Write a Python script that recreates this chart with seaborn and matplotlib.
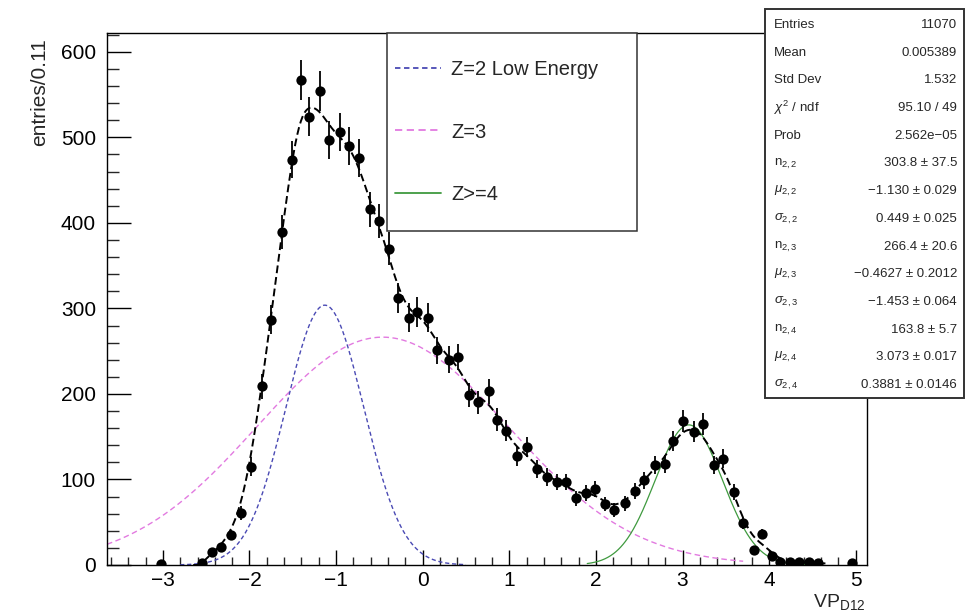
import numpy as np
import pandas as pd
import matplotlib
matplotlib.use("Agg")
import matplotlib.pyplot as plt
import seaborn as sns
from matplotlib.lines import Line2D
from matplotlib.patches import Rectangle
from matplotlib.ticker import MultipleLocator

# ---------------- data ----------------
vp_d12 = [-3.02, -2.55, -2.43, -2.33, -2.21, -2.10, -1.98, -1.86, -1.75, -1.63,
          -1.51, -1.41, -1.31, -1.19, -1.08, -0.96, -0.85, -0.73, -0.61, -0.51,
          -0.39, -0.29, -0.16, -0.06, 0.06, 0.17, 0.30, 0.41, 0.53, 0.64,
          0.76, 0.86, 0.96, 1.09, 1.20, 1.32, 1.43, 1.55, 1.66, 1.77,
          1.88, 1.99, 2.10, 2.21, 2.34, 2.45, 2.56, 2.68, 2.80, 2.89,
          3.01, 3.13, 3.24, 3.36, 3.47, 3.59, 3.70, 3.82, 3.92, 4.03,
          4.13, 4.24, 4.35, 4.46, 4.57, 4.96]
entries = [1, 2, 15, 21, 35, 61, 115, 209, 287, 389,
           474, 567, 524, 554, 497, 506, 490, 476, 416, 402,
           370, 312, 289, 296, 289, 251, 240, 243, 199, 190,
           203, 170, 157, 127, 138, 112, 103, 97, 97, 78,
           84, 89, 71, 64, 72, 87, 99, 117, 118, 145,
           168, 156, 165, 117, 124, 85, 49, 18, 36, 10,
           4, 3, 4, 3, 2, 2]

# fit component parameters (from the stats box)
n22, mu22, sig22 = 303.8, -1.130, 0.449
n23, mu23, sig23 = 266.4, -0.4627, -1.453
n24, mu24, sig24 = 163.8, 3.073, 0.3881

legend_labels = ["Z=2 Low Energy", "Z=3", "Z>=4"]

stat_names = ["Entries", "Mean", "Std Dev", r"$\chi^{2}$ / ndf", "Prob",
              r"n$_{2,2}$", r"$\mu_{2,2}$", r"$\sigma_{2,2}$",
              r"n$_{2,3}$", r"$\mu_{2,3}$", r"$\sigma_{2,3}$",
              r"n$_{2,4}$", r"$\mu_{2,4}$", r"$\sigma_{2,4}$"]
stat_values = ["11070", "0.005389", "1.532", "95.10 / 49", "2.562e\u221205",
               "303.8 \u00b1 37.5", "\u22121.130 \u00b1 0.029", "0.449 \u00b1 0.025",
               "266.4 \u00b1 20.6", "\u22120.4627 \u00b1 0.2012", "\u22121.453 \u00b1 0.064",
               "163.8 \u00b1 5.7", "3.073 \u00b1 0.017", "0.3881 \u00b1 0.0146"]

# ---------------- style ----------------
sns.set_theme(style="white")
plt.rcParams["font.family"] = ["Liberation Sans", "DejaVu Sans"]
plt.rcParams["mathtext.fontset"] = "custom"
plt.rcParams["mathtext.rm"] = "Liberation Sans"
plt.rcParams["mathtext.it"] = "Liberation Sans:italic"
plt.rcParams["mathtext.bf"] = "Liberation Sans:bold"
plt.rcParams["axes.unicode_minus"] = True

W, H = 967, 613
fig = plt.figure(figsize=(W / 100, H / 100), dpi=100)
fig.patch.set_facecolor("white")
ax = fig.add_axes([107 / W, 1 - 565 / H, (867 - 107) / W, (565 - 33) / H])
ax.set_facecolor("white")

x = np.array(vp_d12)
y = np.array(entries, dtype=float)
yerr = np.sqrt(y)
df = pd.DataFrame({"vp": x, "entries": y})


def gauss(xx, n, mu, sig):
    return n * np.exp(-0.5 * ((xx - mu) / sig) ** 2)


def local_linear(xg, xd, yd, h):
    out = np.empty_like(xg)
    for k, x0 in enumerate(xg):
        w = np.sqrt(np.exp(-0.5 * ((xd - x0) / h) ** 2))
        X = np.vstack([np.ones_like(xd), xd - x0]).T
        beta = np.linalg.lstsq(X * w[:, None], yd * w, rcond=None)[0]
        out[k] = beta[0]
    return np.clip(out, 0, None)


BLUE, PINK, GREEN = "#4a4ab4", "#e27ae0", "#3f9a3f"

# components
xb = np.linspace(-2.8, 0.5, 400)
xm = np.linspace(-3.645, 3.7, 600)
xg4 = np.linspace(1.9, 4.6, 400)
xf = np.linspace(-2.65, 4.65, 700)

comp = [
    (xm, gauss(xm, n23, mu23, sig23), PINK, (4, 2.5), 1.0),
    (xb, gauss(xb, n22, mu22, sig22), BLUE, (3, 2), 1.0),
    (xg4, gauss(xg4, n24, mu24, sig24), GREEN, None, 0.9),
]
for xx, yy, col, dsh, lw in comp:
    sns.lineplot(x=xx, y=yy, ax=ax, color=col, lw=lw, sort=False, estimator=None)
    if dsh is not None:
        ax.lines[-1].set_dashes(dsh)

# total fit (smooth curve fitted to the data)
yf = local_linear(xf, x, y, 0.12)
sns.lineplot(x=xf, y=yf, ax=ax, color="black", lw=1.4, sort=False, estimator=None)
ax.lines[-1].set_dashes((4, 2))

# data points with Poisson errors
ax.errorbar(x, y, yerr=yerr, fmt="none", ecolor="black", elinewidth=1.3,
            capsize=0, zorder=4)
sns.scatterplot(data=df, x="vp", y="entries", ax=ax, color="black", s=55,
                edgecolor="black", linewidth=0, zorder=5, legend=False)

# axes
ax.set_xlim(-3.645, 5.13)
ax.set_ylim(0, 622)
ax.set_xlabel("")
ax.set_ylabel("")
ax.xaxis.set_major_locator(MultipleLocator(1))
ax.xaxis.set_minor_locator(MultipleLocator(0.2))
ax.yaxis.set_major_locator(MultipleLocator(100))
ax.yaxis.set_minor_locator(MultipleLocator(20))
ax.tick_params(axis="x", which="major", direction="in", length=11, width=1,
               labelsize=15, pad=4, colors="black", bottom=True, top=False)
ax.tick_params(axis="x", which="minor", direction="in", length=5.5, width=1,
               bottom=True, top=False)
ax.tick_params(axis="y", which="major", direction="in", length=17, width=1,
               labelsize=15, pad=8, colors="black", left=True, right=False)
ax.tick_params(axis="y", which="minor", direction="in", length=8.5, width=1,
               left=True, right=False)
for sp in ax.spines.values():
    sp.set_color("black")
    sp.set_linewidth(1.0)

fig.text(40 / W, 1 - 38 / H, "entries/0.11", rotation=90, ha="center",
         va="top", fontsize=15)
fig.text(866 / W, 1 - 607 / H, r"VP$_{\mathrm{D12}}$", ha="right",
         va="baseline", fontsize=14)

# legend box
fig.add_artist(Rectangle((387 / W, 1 - 231 / H), (637 - 387) / W, (231 - 33) / H,
                         transform=fig.transFigure, facecolor="white",
                         edgecolor="#333333", lw=1.1, zorder=6))
handles = [Line2D([0], [0], color=BLUE, lw=1.3, dashes=(3, 2)),
           Line2D([0], [0], color=PINK, lw=1.3, dashes=(4, 2.5)),
           Line2D([0], [0], color=GREEN, lw=1.3)]
leg = fig.legend(handles, legend_labels, loc="center left",
                 bbox_to_anchor=(395 / W, 1 - 132 / H), frameon=False,
                 fontsize=14.5, handlelength=2.3, handletextpad=0.5,
                 labelspacing=2.15, borderpad=0, borderaxespad=0)
leg.set_zorder(7)

# stats box
fig.add_artist(Rectangle((765 / W, 1 - 398 / H), (964 - 765) / W, (398 - 9) / H,
                         transform=fig.transFigure, facecolor="white",
                         edgecolor="#333333", lw=1.4, zorder=6))
for i, (nm, val) in enumerate(zip(stat_names, stat_values)):
    yy = 1 - (25 + 27.7 * i) / H
    fig.text(774 / W, yy, nm, ha="left", va="center", fontsize=9.5, zorder=7)
    fig.text(957 / W, yy, val, ha="right", va="center", fontsize=9.5, zorder=7)

fig.savefig("out.png", dpi=100, facecolor="white")
